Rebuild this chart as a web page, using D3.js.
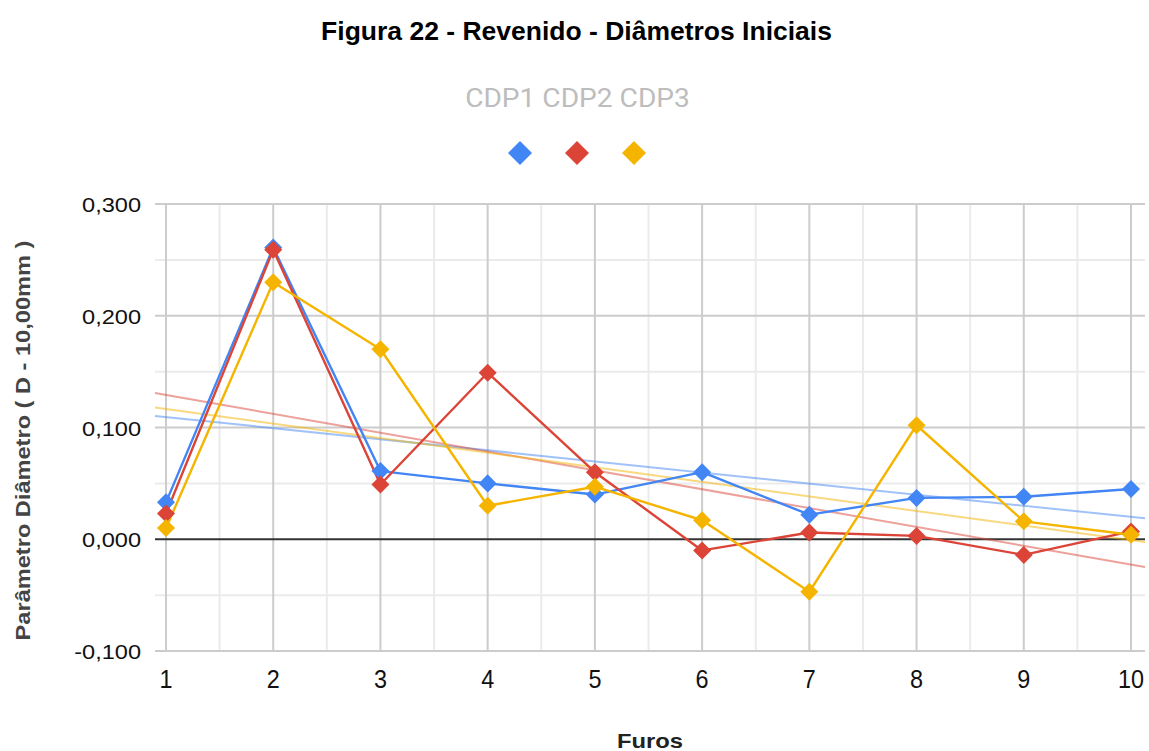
<!DOCTYPE html>
<html>
<head>
<meta charset="utf-8">
<script src="https://cdn.jsdelivr.net/npm/d3@7"></script>
<style>
  body { margin: 0; background: #fff; }
  text { font-family: "Liberation Sans", Arial, sans-serif; }
</style>
</head>
<body>
<svg id="chart"></svg>
<script>
(() => {
    const width = 1149;
    const height = 751;

    const furos = [1, 2, 3, 4, 5, 6, 7, 8, 9, 10];
    const seriesNames = ["CDP1", "CDP2", "CDP3"];
    const cdp1 = [0.033, 0.261, 0.061, 0.050, 0.040, 0.060, 0.022, 0.037, 0.038, 0.045];
    const cdp2 = [0.023, 0.259, 0.049, 0.149, 0.060, -0.010, 0.006, 0.003, -0.014, 0.007];
    const cdp3 = [0.010, 0.230, 0.170, 0.030, 0.047, 0.017, -0.047, 0.102, 0.016, 0.004];
    const yTicks = [-0.1, 0, 0.1, 0.2, 0.3];
    const yMinorTicks = [-0.05, 0.05, 0.15, 0.25];
    const xMinorTicks = [1.5, 2.5, 3.5, 4.5, 5.5, 6.5, 7.5, 8.5, 9.5];
    const colors = ["#4285F4", "#DB4437", "#F4B400"];

    const plotLeft = 155, plotRight = 1145;

    const xScale = d3.scaleLinear().domain([1, 10]).range([166, 1131]);
    const yScale = d3.scaleLinear().domain([-0.1, 0.3]).range([651, 204]);

    const svg = d3.select("#chart")
        .attr("width", width)
        .attr("height", height);

    const fmt = d => d3.format(".3f")(d).replace(".", ",").replace("−", "-");

    // stretched text helper
    const label = (x, y, str, opts) => {
        const g = svg.append("g")
            .attr("transform", `translate(${x},${y})${opts.rotate ? " rotate(-90)" : ""} scale(${opts.k || 1},1)`);
        return g.append("text")
            .attr("text-anchor", opts.anchor || "middle")
            .attr("font-size", opts.size)
            .attr("font-weight", opts.bold ? "bold" : "normal")
            .attr("fill", opts.fill || "#222")
            .style("font-family", opts.family || null)
            .text(str);
    };

    // gridlines
    const grid = svg.append("g");
    grid.selectAll("line.hminor").data(yMinorTicks).enter().append("line")
        .attr("x1", plotLeft).attr("x2", plotRight)
        .attr("y1", d => yScale(d)).attr("y2", d => yScale(d))
        .attr("stroke", "#ebebeb").attr("stroke-width", 2);
    grid.selectAll("line.vminor").data(xMinorTicks).enter().append("line")
        .attr("x1", d => xScale(d)).attr("x2", d => xScale(d))
        .attr("y1", yScale(0.3)).attr("y2", yScale(-0.1))
        .attr("stroke", "#ebebeb").attr("stroke-width", 2);
    grid.selectAll("line.hmajor").data(yTicks.filter(d => d !== 0)).enter().append("line")
        .attr("x1", plotLeft).attr("x2", plotRight)
        .attr("y1", d => yScale(d)).attr("y2", d => yScale(d))
        .attr("stroke", "#cccccc").attr("stroke-width", 2);
    grid.selectAll("line.vmajor").data(furos).enter().append("line")
        .attr("x1", d => xScale(d)).attr("x2", d => xScale(d))
        .attr("y1", yScale(0.3)).attr("y2", yScale(-0.1))
        .attr("stroke", "#cccccc").attr("stroke-width", 2);
    grid.append("line")
        .attr("x1", plotLeft).attr("x2", plotRight)
        .attr("y1", yScale(0)).attr("y2", yScale(0))
        .attr("stroke", "#333").attr("stroke-width", 2);

    // tick labels
    yTicks.forEach(t => label(141, yScale(t) + 8, fmt(t), { size: 20.5, k: 1.15, anchor: "end", fill: "#111" }));
    furos.forEach(f => label(xScale(f), 688, String(f), { size: 26, k: 0.9, fill: "#111" }));

    const data = [cdp1, cdp2, cdp3].map(vals => furos.map((x, i) => ({ x, y: vals[i] })));

    // trend lines (least squares)
    const xLo = xScale.invert(plotLeft), xHi = xScale.invert(plotRight);
    data.forEach((pts, i) => {
        const mx = d3.mean(pts, d => d.x), my = d3.mean(pts, d => d.y);
        const slope = d3.sum(pts, d => (d.x - mx) * (d.y - my)) / d3.sum(pts, d => (d.x - mx) ** 2);
        const b = my - slope * mx;
        svg.append("line")
            .attr("x1", xScale(xLo)).attr("y1", yScale(b + slope * xLo))
            .attr("x2", xScale(xHi)).attr("y2", yScale(b + slope * xHi))
            .attr("stroke", colors[i]).attr("stroke-opacity", 0.5).attr("stroke-width", 2);
    });

    const line = d3.line().x(d => xScale(d.x)).y(d => yScale(d.y));
    const diamond = d3.symbol().type(d3.symbolSquare);

    data.forEach((pts, i) => {
        svg.append("path").datum(pts)
            .attr("fill", "none").attr("stroke", colors[i])
            .attr("stroke-width", 2.4).attr("stroke-linejoin", "round")
            .attr("d", line);
    });
    data.forEach((pts, i) => {
        svg.selectAll(`path.pt${i}`).data(pts).enter().append("path")
            .attr("d", diamond.size(162)())
            .attr("transform", d => `translate(${xScale(d.x)},${yScale(d.y)}) rotate(45)`)
            .attr("fill", colors[i]);
    });

    // title & axis titles
    label(576.5, 40, "Figura 22 - Revenido - Diâmetros Iniciais", { size: 25, k: 1.06, bold: true, fill: "#000" });
    label(650, 748, "Furos", { size: 19.5, k: 1.22, bold: true, fill: "#222" });
    label(30, 440.5, "Parâmetro Diâmetro ( D - 10,00mm )", { size: 20, k: 1.18, bold: true, rotate: true, fill: "#444" });

    // legend
    label(577.5, 107, seriesNames.join(" "), { size: 25.8, k: 1.09, fill: "#bdbdbd", family: "Roboto" });
    const legendX = d3.scalePoint().domain(seriesNames).range([520, 634]);
    svg.selectAll("path.leg").data(seriesNames).enter().append("path")
        .attr("d", diamond.size(288)())
        .attr("transform", d => `translate(${legendX(d)},153) rotate(45)`)
        .attr("fill", (d, i) => colors[i]);
})();
</script>
</body>
</html>
